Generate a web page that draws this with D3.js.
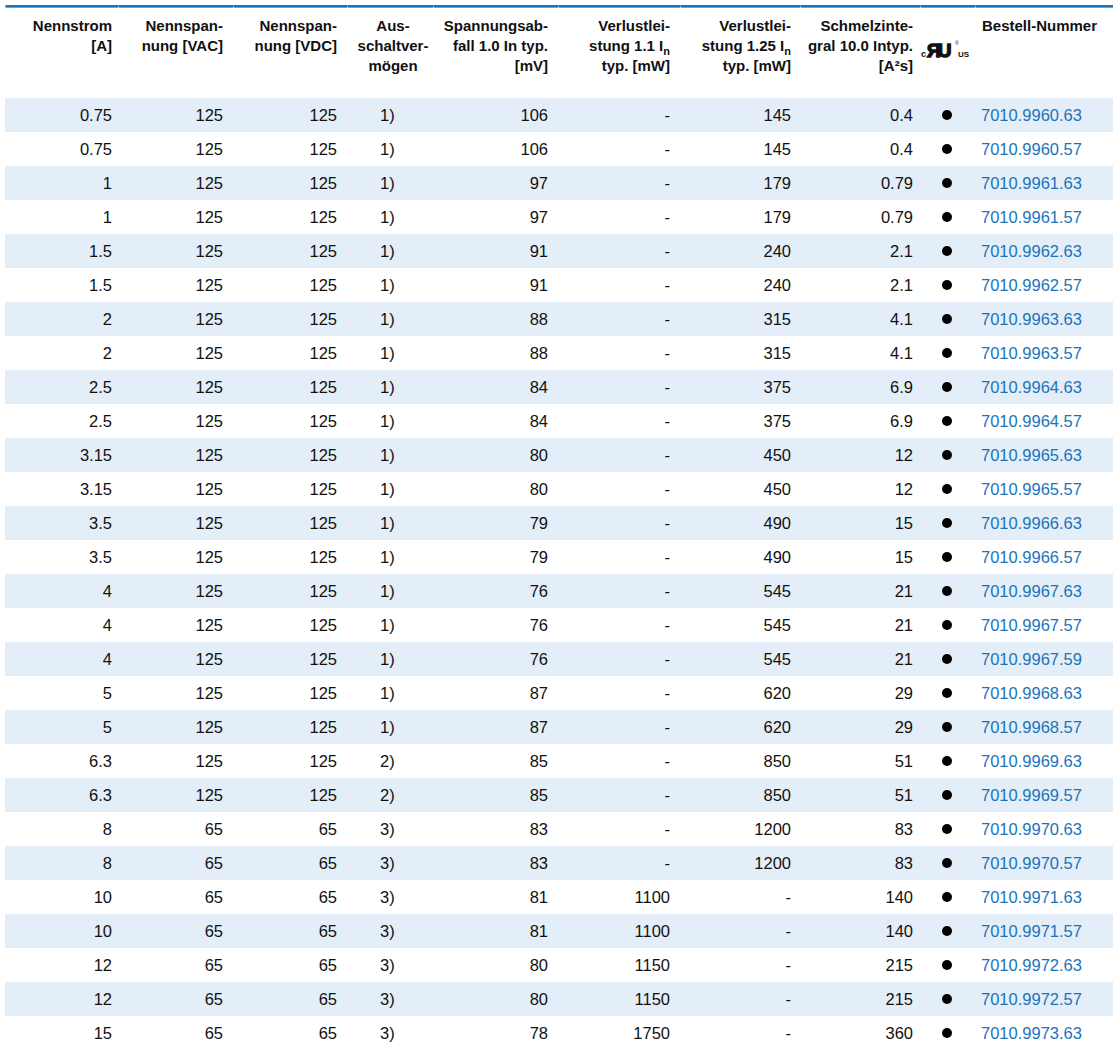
<!DOCTYPE html>
<html>
<head>
<meta charset="utf-8">
<script src="https://cdn.jsdelivr.net/npm/d3@7"></script>
<style>
  body { margin: 0; background: #fff; }
  text { font-family: "Liberation Sans", Arial, sans-serif; }
</style>
</head>
<body>
<div id="chart-area"></div>
<script>
// table values, one array per column
var nennstrom = ["0.75","0.75","1","1","1.5","1.5","2","2","2.5","2.5","3.15","3.15","3.5","3.5",
    "4","4","4","5","5","6.3","6.3","8","8","10","10","12","12","15"];
var spannungVAC = ["125","125","125","125","125","125","125","125","125","125","125","125","125","125",
    "125","125","125","125","125","125","125","65","65","65","65","65","65","65"];
var spannungVDC = ["125","125","125","125","125","125","125","125","125","125","125","125","125","125",
    "125","125","125","125","125","125","125","65","65","65","65","65","65","65"];
var ausschalt = ["1)","1)","1)","1)","1)","1)","1)","1)","1)","1)","1)","1)","1)","1)",
    "1)","1)","1)","1)","1)","2)","2)","3)","3)","3)","3)","3)","3)","3)"];
var abfall = ["106","106","97","97","91","91","88","88","84","84","80","80","79","79",
    "76","76","76","87","87","85","85","83","83","81","81","80","80","78"];
var verlust11 = ["-","-","-","-","-","-","-","-","-","-","-","-","-","-",
    "-","-","-","-","-","-","-","-","-","1100","1100","1150","1150","1750"];
var verlust125 = ["145","145","179","179","240","240","315","315","375","375","450","450","490","490",
    "545","545","545","620","620","850","850","1200","1200","-","-","-","-","-"];
var schmelz = ["0.4","0.4","0.79","0.79","2.1","2.1","4.1","4.1","6.9","6.9","12","12","15","15",
    "21","21","21","29","29","51","51","83","83","140","140","215","215","360"];
var bestell = ["7010.9960.63","7010.9960.57","7010.9961.63","7010.9961.57","7010.9962.63","7010.9962.57",
    "7010.9963.63","7010.9963.57","7010.9964.63","7010.9964.57","7010.9965.63","7010.9965.57",
    "7010.9966.63","7010.9966.57","7010.9967.63","7010.9967.57","7010.9967.59","7010.9968.63",
    "7010.9968.57","7010.9969.63","7010.9969.57","7010.9970.63","7010.9970.57","7010.9971.63",
    "7010.9971.57","7010.9972.63","7010.9972.57","7010.9973.63"];

var width = 1113;
var height = 1043;
var rowTop = 98;
var rowH = 34;
var blue = "#1b74ba";

var svg = d3.select('#chart-area')
    .append('svg')
        .attr('width', width)
        .attr('height', height);

var rows = d3.range(nennstrom.length);

var y = d3.scaleBand()
    .domain(rows)
    .range([rowTop, rowTop + rows.length * rowH])
    .padding(0);

// alternating bands
svg.selectAll('rect.band').data(rows.filter(function(i) { return i % 2 === 0; }))
    .enter()
    .append('rect')
    .attr('class', 'band')
    .attr('x', 5)
    .attr('y', function(d) { return y(d); })
    .attr('width', width - 5)
    .attr('height', y.bandwidth())
    .attr('fill', '#e4eef8');

// top rule, drawn in column pieces
var edges = [5, 118, 233, 347, 433, 558, 680, 800, 920, 975, 1113];
svg.append('rect')
    .attr('x', 5).attr('y', 5).attr('width', width - 5).attr('height', 2.5)
    .attr('fill', '#6fa6d6');
svg.selectAll('rect.rule').data(d3.pairs(edges))
    .enter()
    .append('rect')
    .attr('class', 'rule')
    .attr('x', function(d) { return d[0] + 1; })
    .attr('y', 5)
    .attr('width', function(d) { return d[1] - d[0] - 1; })
    .attr('height', 2.5)
    .attr('fill', blue);

// columns: values, anchor position, alignment
var columns = [
    {values: nennstrom, x: 112, anchor: 'end', head: ["Nennstrom", "[A]"]},
    {values: spannungVAC, x: 223, anchor: 'end', head: ["Nennspan-", "nung [VAC]"]},
    {values: spannungVDC, x: 337, anchor: 'end', head: ["Nennspan-", "nung [VDC]"]},
    {values: ausschalt, x: 380, anchor: 'start', head: ["Aus-", "schaltver-", "mögen"], hx: 393, hanchor: 'middle'},
    {values: abfall, x: 548, anchor: 'end', head: ["Spannungsab-", "fall 1.0 In typ.", "[mV]"]},
    {values: verlust11, x: 670, anchor: 'end', head: ["Verlustlei-", ["stung 1.1 I", "n"], "typ. [mW]"]},
    {values: verlust125, x: 791, anchor: 'end', head: ["Verlustlei-", ["stung 1.25 I", "n"], "typ. [mW]"]},
    {values: schmelz, x: 913, anchor: 'end', head: ["Schmelzinte-", "gral 10.0 Intyp.", "[A²s]"]},
    {values: bestell, x: 981, anchor: 'start', head: ["Bestell-Nummer"], hx: 982, color: blue}
];

// header
columns.forEach(function(c) {
    var t = svg.append('text')
        .attr('x', c.hx || c.x)
        .attr('y', 31)
        .attr('font-size', '15px')
        .attr('font-weight', 'bold')
        .attr('fill', '#111')
        .attr('text-anchor', c.hanchor || c.anchor);
    c.head.forEach(function(line, i) {
        var ts = t.append('tspan')
            .attr('x', c.hx || c.x)
            .attr('y', 31 + i * 20);
        if (Array.isArray(line)) {
            ts.text(line[0]);
            ts.append('tspan')
                .attr('dy', 4)
                .attr('font-size', '11px')
                .text(line[1]);
        } else {
            ts.text(line);
        }
    });
});

// UL mark
var ul = svg.append('g').attr('font-weight', 'bold').attr('fill', '#111');
ul.append('text').attr('x', 921).attr('y', 57).attr('font-size', '9px').text('c');
ul.append('text').attr('x', 927).attr('y', 57).attr('font-size', '19px')
    .attr('font-family', '"DejaVu Sans", sans-serif')
    .attr('stroke', '#111').attr('stroke-width', 1.4)
    .attr('letter-spacing', '-3px').text('ЯU');
ul.append('text').attr('x', 955).attr('y', 45).attr('font-size', '5px').attr('font-weight', 'normal').text('®');
ul.append('text').attr('x', 958).attr('y', 57).attr('font-size', '8px').text('US');

// cells
columns.forEach(function(c) {
    svg.append('g').selectAll('text')
        .data(c.values)
        .enter()
        .append('text')
        .attr('x', c.x)
        .attr('y', function(d, i) { return y(i) + y.bandwidth() / 2; })
        .attr('dy', '0.36em')
        .attr('font-size', '16.5px')
        .attr('fill', c.color || '#111')
        .attr('text-anchor', c.anchor)
        .text(function(d) { return d; });
});

// dots for the UL column
svg.append('g').selectAll('circle')
    .data(rows)
    .enter()
    .append('circle')
    .attr('cx', 947)
    .attr('cy', function(d) { return y(d) + y.bandwidth() / 2; })
    .attr('r', 5)
    .attr('fill', '#000');
</script>
</body>
</html>
